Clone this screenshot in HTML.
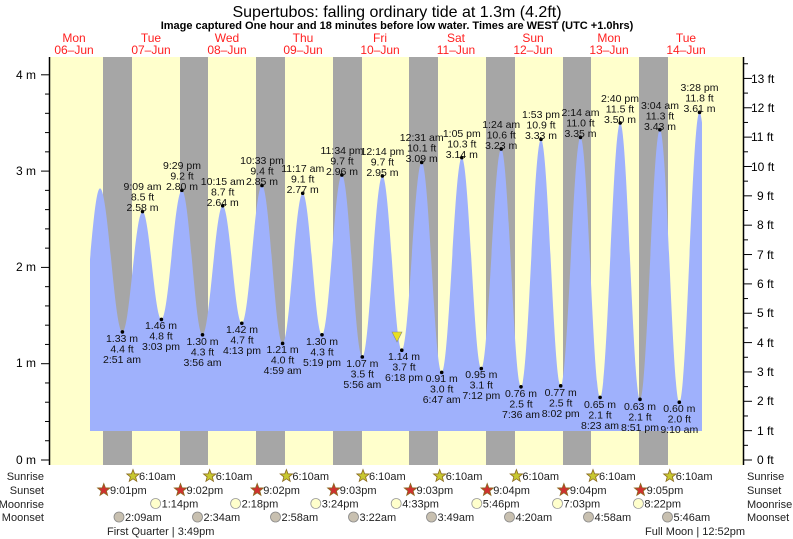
<!DOCTYPE html>
<html><head><meta charset="utf-8"><style>
html,body{margin:0;padding:0;background:#fff;}
svg{display:block;font-family:"Liberation Sans",sans-serif;}
</style></head><body>
<svg id="s" width="793" height="539" viewBox="0 0 793 539" xmlns="http://www.w3.org/2000/svg">
<text x="397" y="17" font-size="16" text-anchor="middle">Supertubos: falling  ordinary tide at 1.3m (4.2ft)</text>
<text x="397" y="29" font-size="11" font-weight="bold" text-anchor="middle">Image captured One hour and 18 minutes before low water. Times are WEST (UTC +1.0hrs)</text>
<g fill="#ff2020" font-size="12" text-anchor="middle">
<text x="74" y="42">Mon</text><text x="74" y="54">06–Jun</text>
<text x="151" y="42">Tue</text><text x="151" y="54">07–Jun</text>
<text x="227" y="42">Wed</text><text x="227" y="54">08–Jun</text>
<text x="303" y="42">Thu</text><text x="303" y="54">09–Jun</text>
<text x="380" y="42">Fri</text><text x="380" y="54">10–Jun</text>
<text x="456" y="42">Sat</text><text x="456" y="54">11–Jun</text>
<text x="533" y="42">Sun</text><text x="533" y="54">12–Jun</text>
<text x="609" y="42">Mon</text><text x="609" y="54">13–Jun</text>
<text x="686" y="42">Tue</text><text x="686" y="54">14–Jun</text>
</g>
<rect x="50" y="57" width="693" height="408" fill="#ffffcc"/>
<g fill="#a6a6a6">
<rect x="103" y="57" width="29" height="408"/><rect x="180" y="57" width="28" height="408"/>
<rect x="256" y="57" width="29" height="408"/><rect x="333" y="57" width="29" height="408"/>
<rect x="409" y="57" width="29" height="408"/><rect x="486" y="57" width="29" height="408"/>
<rect x="563" y="57" width="28" height="408"/><rect x="639" y="57" width="29" height="408"/>
</g>
<clipPath id="c"><rect x="90" y="50" width="612" height="381"/></clipPath>
<path id="w" clip-path="url(#c)" fill="#9fb1fc" d=""/>
<g id="dots" fill="#000"></g>
<polygon points="392,332 402,332 397,342" fill="#e8e020" stroke="#888" stroke-width="0.6"/>
<line x1="49.5" y1="57" x2="49.5" y2="465" stroke="#000" stroke-width="1.5"/>
<line x1="743.5" y1="57" x2="743.5" y2="465" stroke="#000" stroke-width="1.5"/>
<g id="ticks" stroke="#000" stroke-width="1"></g>
<g font-size="12" text-anchor="end">
<text x="36" y="464">0 m</text><text x="36" y="367">1 m</text><text x="36" y="271">2 m</text><text x="36" y="175">3 m</text><text x="36" y="79">4 m</text>
</g>
<g font-size="12">
<text x="757" y="464">0 ft</text><text x="757" y="435">1 ft</text><text x="757" y="405">2 ft</text><text x="757" y="376">3 ft</text><text x="757" y="347">4 ft</text><text x="757" y="317">5 ft</text><text x="757" y="288">6 ft</text><text x="757" y="259">7 ft</text><text x="757" y="229">8 ft</text><text x="757" y="200">9 ft</text><text x="751" y="171">10 ft</text><text x="751" y="141">11 ft</text><text x="751" y="112">12 ft</text><text x="751" y="83">13 ft</text>
</g>
<g font-size="10.5" text-anchor="middle" fill="#111">
<text x="122" y="342">1.33 m</text><text x="122" y="352.5">4.4 ft</text><text x="122" y="363">2:51 am</text>
<text x="142.5" y="190">9:09 am</text><text x="142.5" y="200.5">8.5 ft</text><text x="142.5" y="211">2.58 m</text>
<text x="161" y="329">1.46 m</text><text x="161" y="339.5">4.8 ft</text><text x="161" y="350">3:03 pm</text>
<text x="182" y="169">9:29 pm</text><text x="182" y="179.5">9.2 ft</text><text x="182" y="190">2.80 m</text>
<text x="202.5" y="345">1.30 m</text><text x="202.5" y="355.5">4.3 ft</text><text x="202.5" y="366">3:56 am</text>
<text x="222.7" y="185">10:15 am</text><text x="222.7" y="195.5">8.7 ft</text><text x="222.7" y="206">2.64 m</text>
<text x="242" y="333">1.42 m</text><text x="242" y="343.5">4.7 ft</text><text x="242" y="354">4:13 pm</text>
<text x="262" y="164">10:33 pm</text><text x="262" y="174.5">9.4 ft</text><text x="262" y="185">2.85 m</text>
<text x="282.6" y="353">1.21 m</text><text x="282.6" y="363.5">4.0 ft</text><text x="282.6" y="374">4:59 am</text>
<text x="302.7" y="172">11:17 am</text><text x="302.7" y="182.5">9.1 ft</text><text x="302.7" y="193">2.77 m</text>
<text x="322" y="345">1.30 m</text><text x="322" y="355.5">4.3 ft</text><text x="322" y="366">5:19 pm</text>
<text x="342" y="154">11:34 pm</text><text x="342" y="164.5">9.7 ft</text><text x="342" y="175">2.96 m</text>
<text x="362.3" y="367">1.07 m</text><text x="362.3" y="377.5">3.5 ft</text><text x="362.3" y="388">5:56 am</text>
<text x="382.4" y="155">12:14 pm</text><text x="382.4" y="165.5">9.7 ft</text><text x="382.4" y="176">2.95 m</text>
<text x="404" y="360">1.14 m</text><text x="404" y="370.5">3.7 ft</text><text x="404" y="381">6:18 pm</text>
<text x="421.7" y="141">12:31 am</text><text x="421.7" y="151.5">10.1 ft</text><text x="421.7" y="162">3.09 m</text>
<text x="441.7" y="382">0.91 m</text><text x="441.7" y="392.5">3.0 ft</text><text x="441.7" y="403">6:47 am</text>
<text x="461.8" y="137">1:05 pm</text><text x="461.8" y="147.5">10.3 ft</text><text x="461.8" y="158">3.14 m</text>
<text x="481.3" y="378">0.95 m</text><text x="481.3" y="388.5">3.1 ft</text><text x="481.3" y="399">7:12 pm</text>
<text x="501.2" y="128">1:24 am</text><text x="501.2" y="138.5">10.6 ft</text><text x="501.2" y="149">3.23 m</text>
<text x="521" y="397">0.76 m</text><text x="521" y="407.5">2.5 ft</text><text x="521" y="418">7:36 am</text>
<text x="541" y="118">1:53 pm</text><text x="541" y="128.5">10.9 ft</text><text x="541" y="139">3.33 m</text>
<text x="560.7" y="396">0.77 m</text><text x="560.7" y="406.5">2.5 ft</text><text x="560.7" y="417">8:02 pm</text>
<text x="580.5" y="116">2:14 am</text><text x="580.5" y="126.5">11.0 ft</text><text x="580.5" y="137">3.35 m</text>
<text x="600" y="408">0.65 m</text><text x="600" y="418.5">2.1 ft</text><text x="600" y="429">8:23 am</text>
<text x="620" y="102">2:40 pm</text><text x="620" y="112.5">11.5 ft</text><text x="620" y="123">3.50 m</text>
<text x="640" y="410">0.63 m</text><text x="640" y="420.5">2.1 ft</text><text x="640" y="431">8:51 pm</text>
<text x="660" y="109">3:04 am</text><text x="660" y="119.5">11.3 ft</text><text x="660" y="130">3.43 m</text>
<text x="679.3" y="412">0.60 m</text><text x="679.3" y="422.5">2.0 ft</text><text x="679.3" y="433">9:10 am</text>
<text x="699.5" y="91">3:28 pm</text><text x="699.5" y="101.5">11.8 ft</text><text x="699.5" y="112">3.61 m</text>
</g>
<g font-size="11" text-anchor="end" fill="#222">
<text x="44" y="480">Sunrise</text><text x="44" y="494">Sunset</text><text x="44" y="508">Moonrise</text><text x="44" y="521">Moonset</text>
</g>
<g font-size="11" fill="#222">
<text x="747" y="480">Sunrise</text><text x="747" y="494">Sunset</text><text x="747" y="508">Moonrise</text><text x="747" y="521">Moonset</text>
</g>
<defs>
<polygon id="star" points="0,-6.5 1.6,-2.2 6.2,-2 2.6,0.9 3.8,5.3 0,2.8 -3.8,5.3 -2.6,0.9 -6.2,-2 -1.6,-2.2" stroke="#8a6a20" stroke-width="0.8"/>
</defs>
<g fill="#c8c830">
<use href="#star" x="133" y="476"/><use href="#star" x="209.7" y="476"/><use href="#star" x="286.4" y="476"/><use href="#star" x="363" y="476"/><use href="#star" x="439.7" y="476"/><use href="#star" x="516.4" y="476"/><use href="#star" x="593" y="476"/><use href="#star" x="669.8" y="476"/>
</g>
<g fill="#d03030">
<use href="#star" x="103.8" y="490"/><use href="#star" x="180.5" y="490"/><use href="#star" x="257.2" y="490"/><use href="#star" x="333.8" y="490"/><use href="#star" x="410.5" y="490"/><use href="#star" x="487.2" y="490"/><use href="#star" x="563.9" y="490"/><use href="#star" x="640.6" y="490"/>
</g>
<g fill="#ffffcc" stroke="#999" stroke-width="0.8">
<circle cx="155.6" cy="503.5" r="5"/><circle cx="235.6" cy="503.5" r="5"/><circle cx="315.8" cy="503.5" r="5"/><circle cx="396.2" cy="503.5" r="5"/><circle cx="476.8" cy="503.5" r="5"/><circle cx="557.5" cy="503.5" r="5"/><circle cx="638.4" cy="503.5" r="5"/>
</g>
<g fill="#c8c0b0" stroke="#888" stroke-width="0.8">
<circle cx="119" cy="517" r="5"/><circle cx="197.5" cy="517" r="5"/><circle cx="275.5" cy="517" r="5"/><circle cx="353.5" cy="517" r="5"/><circle cx="431.5" cy="517" r="5"/><circle cx="509.5" cy="517" r="5"/><circle cx="588.5" cy="517" r="5"/><circle cx="667.5" cy="517" r="5"/>
</g>
<g font-size="11" fill="#222">
<text x="139" y="480">6:10am</text><text x="215.7" y="480">6:10am</text><text x="292.4" y="480">6:10am</text><text x="369" y="480">6:10am</text><text x="445.7" y="480">6:10am</text><text x="522.4" y="480">6:10am</text><text x="599" y="480">6:10am</text><text x="675.8" y="480">6:10am</text>
<text x="110" y="494">9:01pm</text><text x="186.5" y="494">9:02pm</text><text x="263.2" y="494">9:02pm</text><text x="339.8" y="494">9:03pm</text><text x="416.5" y="494">9:03pm</text><text x="493.2" y="494">9:04pm</text><text x="569.9" y="494">9:04pm</text><text x="646.6" y="494">9:05pm</text>
<text x="161.6" y="507.5">1:14pm</text><text x="241.6" y="507.5">2:18pm</text><text x="321.8" y="507.5">3:24pm</text><text x="402.2" y="507.5">4:33pm</text><text x="482.8" y="507.5">5:46pm</text><text x="563.5" y="507.5">7:03pm</text><text x="644.4" y="507.5">8:22pm</text>
<text x="125" y="521">2:09am</text><text x="203.5" y="521">2:34am</text><text x="281.5" y="521">2:58am</text><text x="359.5" y="521">3:22am</text><text x="437.5" y="521">3:49am</text><text x="515.5" y="521">4:20am</text><text x="594.5" y="521">4:58am</text><text x="673.5" y="521">5:46am</text>
<text x="107" y="535">First Quarter | 3:49pm</text><text x="645" y="535">Full Moon | 12:52pm</text>
</g>
</svg>
<script>
var E=[[80,1.35],[100,2.82],[122.4,1.33],[142.5,2.58],[161.4,1.46],[181.9,2.80],[202.5,1.30],[222.7,2.64],[241.8,1.42],[262.0,2.85],[282.6,1.21],[302.7,2.77],[322.0,1.30],[341.9,2.96],[362.3,1.07],[382.4,2.95],[401.8,1.14],[421.7,3.09],[441.7,0.91],[461.8,3.14],[481.3,0.95],[501.2,3.23],[521.0,0.76],[541.0,3.33],[560.7,0.77],[580.5,3.35],[600.1,0.65],[620.2,3.50],[640.0,0.63],[659.9,3.43],[679.3,0.60],[699.5,3.61],[720,0.7]];
function Y(h){return 460-96.3*h;}
var d="M"+E[0][0]+",431 L"+E[0][0]+","+Y(E[0][1]);
for(var i=1;i<E.length;i++){var x0=E[i-1][0],x1=E[i][0],k=(x1-x0)*0.364;d+=" C"+(x0+k)+","+Y(E[i-1][1])+" "+(x1-k)+","+Y(E[i][1])+" "+x1+","+Y(E[i][1]);}
d+=" L720,431 Z";document.getElementById("w").setAttribute("d",d);
var g=document.getElementById("dots"),ns="http://www.w3.org/2000/svg";
for(var i=2;i<E.length-1;i++){var c=document.createElementNS(ns,"circle");c.setAttribute("cx",E[i][0]);c.setAttribute("cy",Y(E[i][1]));c.setAttribute("r",1.8);g.appendChild(c);}
var t=document.getElementById("ticks"),s="";
for(var i=0;i<=20;i++){var y=460-96.3*0.2*i;if(y<57)break;var L=(i%5==0)?8:4;s+='<line x1="'+(49-L)+'" y1="'+y+'" x2="49" y2="'+y+'"/>';}
for(var i=0;i<=27;i++){var y=460-96.3*0.3048*0.5*i;if(y<57)break;var L=(i%2==0)?8:4;s+='<line x1="744" y1="'+y+'" x2="'+(744+L)+'" y2="'+y+'"/>';}
t.innerHTML=s;
</script>
</body></html>
